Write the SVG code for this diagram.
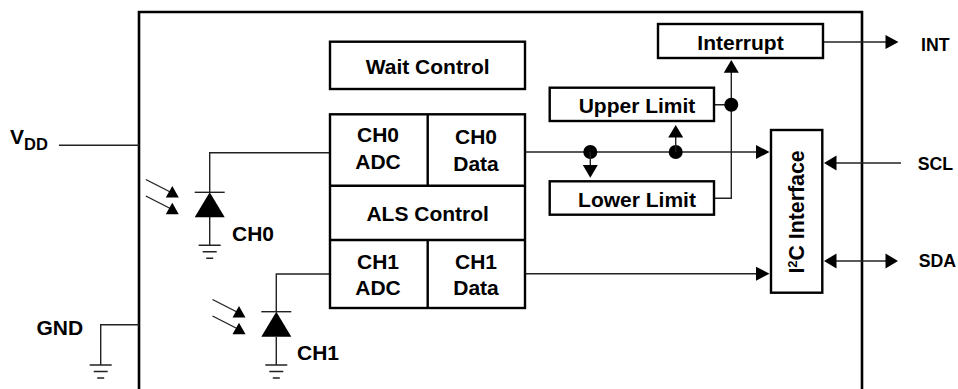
<svg xmlns="http://www.w3.org/2000/svg" width="958" height="389" viewBox="0 0 958 389">
<style>
text{font-family:"Liberation Sans",Arial,sans-serif;font-weight:700;font-size:21px;fill:#000}
.m{text-anchor:middle}
.lb{font-size:17.7px}
.box{fill:#fff;stroke:#000;stroke-width:2.4}
.w{fill:none;stroke:#222;stroke-width:1.4}
.g{fill:none;stroke:#222;stroke-width:1.4}
.h{fill:#000;stroke:none}
</style>
<defs>
<g id="ground"><path class="g" d="M-11 0H11M-7 6.500H7M-3.500 13H3.500"/></g>
<g id="diode"><path class="g" d="M-15 0H15"/><path class="h" d="M0 0L15 25H-15Z"/></g>
<g id="light"><path class="g" d="M-26.500 -6.500L-2 6"/><path class="h" d="M0 0L6.500 11.500H-6.500Z"/><path class="g" d="M-26.500 10L-2 22.500"/><path class="h" d="M0 16.700L6.500 28.300H-6.500Z"/></g>
</defs>
<g id="device"><path d="M139 389V12H862V389" fill="none" stroke="#000" stroke-width="2.6"/></g>
<g id="connectors">
<path class="w" d="M59 145.300H139"/>
<path class="w" d="M139 324.700H100.700V365"/>
<use href="#ground" x="100.700" y="365"/>
<path class="w" d="M330 152.700H209.700V192.300M209.700 217V245.300"/>
<use href="#diode" x="209.700" y="192.300"/>
<use href="#ground" x="209.700" y="245.300"/>
<use href="#light" x="172.300" y="186"/>
<path class="w" d="M330 274H276.300V311.700M276.300 337V365"/>
<use href="#diode" x="276.300" y="311.700"/>
<use href="#ground" x="276.300" y="365"/>
<use href="#light" x="239" y="306"/>
<path class="w" d="M525 152H758"/>
<path class="h" d="M769.500 152L756 145V159Z"/>
<circle class="h" cx="590.300" cy="152" r="7"/>
<circle class="h" cx="675.700" cy="152" r="7"/>
<path class="w" d="M590.300 152V166M675.700 152V136"/>
<path class="h" d="M590.300 177.700L582.800 165H597.800Z"/>
<path class="h" d="M675.700 125L668.200 137.500H683.200Z"/>
<path class="w" d="M714 198.300H731.300V71M714 104.700H731.300"/>
<circle class="h" cx="731.300" cy="104.700" r="7"/>
<path class="h" d="M731.300 60L723.800 72.700H738.800Z"/>
<path class="w" d="M823 42H887"/>
<path class="h" d="M898.500 42L885.500 35V49Z"/>
<path class="w" d="M901 163H835"/>
<path class="h" d="M824 163L836.500 155.500V170.500Z"/>
<path class="w" d="M835 261H887"/>
<path class="h" d="M824 261L836.500 253.500V268.500Z"/>
<path class="h" d="M898 261L885.500 253.500V268.500Z"/>
<path class="w" d="M525 273.700H758"/>
<path class="h" d="M769.500 273.700L756 266.700V280.700Z"/>
</g>
<g id="wait-control"><rect class="box" x="330" y="41.700" width="195" height="47.300"/><text class="m" x="427.700" y="74">Wait Control</text></g>
<g id="als-block">
<rect class="box" x="330" y="114.300" width="195" height="193.700"/>
<path d="M330 185.700H525M330 240H525M427.700 114.300V185.700M427.700 240V308" fill="none" stroke="#000" stroke-width="2.400"/>
</g>
<g id="ch0-adc"><text class="m" x="378" y="142">CH0</text><text class="m" x="378" y="169">ADC</text></g>
<g id="ch0-data"><text class="m" x="476" y="144.300">CH0</text><text class="m" x="476" y="170.700">Data</text></g>
<g id="als-control"><text class="m" x="427.700" y="221">ALS Control</text></g>
<g id="ch1-adc"><text class="m" x="378" y="269">CH1</text><text class="m" x="378" y="295">ADC</text></g>
<g id="ch1-data"><text class="m" x="476" y="269">CH1</text><text class="m" x="476" y="295">Data</text></g>
<g id="interrupt"><rect class="box" x="658" y="24" width="165" height="34"/><text class="m" x="740.500" y="50">Interrupt</text></g>
<g id="upper-limit"><rect class="box" x="549.700" y="87.700" width="164.300" height="33.300"/><text class="m" x="637" y="112.700">Upper Limit</text></g>
<g id="lower-limit"><rect class="box" x="549.700" y="181.300" width="164.300" height="33.400"/><text class="m" x="637" y="206.700">Lower Limit</text></g>
<g id="i2c-interface"><rect class="box" x="771" y="130" width="51.300" height="162.700"/><text class="m" transform="translate(804.300 212) rotate(-90)" style="font-size:21.300px">I<tspan dy="-7" style="font-size:13px">2</tspan><tspan dy="7">C Interface</tspan></text></g>
<g id="pin-vdd"><text x="10" y="144.300">V<tspan dy="5.700" style="font-size:16.500px">DD</tspan></text></g>
<g id="pin-gnd"><text x="36.500" y="335">GND</text></g>
<g id="label-ch0"><text x="232" y="240.700">CH0</text></g>
<g id="label-ch1"><text x="297" y="360">CH1</text></g>
<g id="pin-int"><text class="lb" x="921" y="51">INT</text></g>
<g id="pin-scl"><text class="lb" x="917.700" y="170">SCL</text></g>
<g id="pin-sda"><text class="lb" x="918.700" y="266.700">SDA</text></g>
</svg>
